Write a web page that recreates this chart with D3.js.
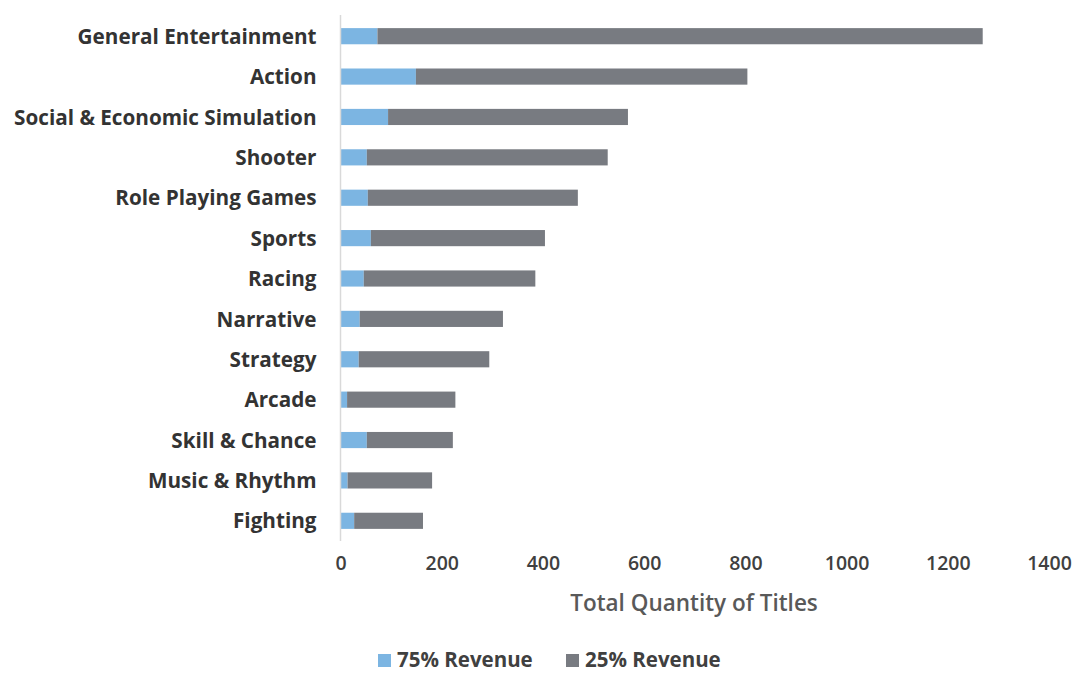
<!DOCTYPE html>
<html><head><meta charset="utf-8">
<script src="https://cdn.jsdelivr.net/npm/d3@7"></script>
<style>body{margin:0;background:#fff;}</style>
</head><body>
<svg id="chart" width="1074" height="673"></svg>
<script>
const categories = ["General Entertainment","Action","Social & Economic Simulation","Shooter","Role Playing Games","Sports","Racing","Narrative","Strategy","Arcade","Skill & Chance","Music & Rhythm","Fighting"];
const rev75 = [73,149,94,52,54,60,46,38,36,13,52,14,27];
const rev25 = [1196,655,474,476,415,344,339,283,258,214,170,167,136];
const xTicks = [0,200,400,600,800,1000,1200,1400];
const seriesNames = ["75% Revenue","25% Revenue"];
const colors = ["#7cb5e2","#787b81"];

const svg = d3.select("#chart");
const font = "'Open Sans', 'Liberation Sans', Arial, sans-serif";
const x = d3.scaleLinear().domain([0,1400]).range([340.5,1049]);
const y = d3.scaleBand().domain(categories).range([16,541]).paddingInner(0.6).paddingOuter(0.3);

const rows = categories.map((c,i)=>({cat:c, a:rev75[i], b:rev25[i]}));
const stack = d3.stack().keys(["a","b"])(rows);

svg.append("g").selectAll("g").data(stack).join("g")
  .attr("fill",(d,i)=>colors[i])
  .selectAll("rect").data(d=>d).join("rect")
  .attr("x",d=>x(d[0]))
  .attr("width",d=>x(d[1])-x(d[0]))
  .attr("y",d=>y(d.data.cat))
  .attr("height",y.bandwidth());

// y axis line
svg.append("line").attr("x1",340.5).attr("x2",340.5).attr("y1",15).attr("y2",541)
  .attr("stroke","#d9d9d9").attr("stroke-width",1.5);

// category labels
const yAxis = svg.append("g").attr("transform","translate(340.5,1)")
  .call(d3.axisLeft(y).tickSize(0).tickPadding(24));
yAxis.select(".domain").remove();
yAxis.selectAll("text").attr("font-family",font).attr("font-size","20.7px")
  .attr("font-weight","bold").attr("fill","#333333");

// x axis
const xAxis = svg.append("g").attr("transform","translate(0,554)")
  .call(d3.axisBottom(x).tickValues(xTicks).tickSize(0).tickPadding(2).tickFormat(d3.format("d")));
xAxis.select(".domain").remove();
xAxis.selectAll("text").attr("font-family",font).attr("font-size","19.5px")
  .attr("font-weight","600").attr("fill","#404040");

svg.append("text").attr("x",694).attr("y",611).attr("text-anchor","middle")
  .attr("font-family",font).attr("font-size","22.5px").attr("font-weight","600").attr("fill","#595959")
  .text("Total Quantity of Titles");

// legend
const legX = [378,566];
const leg = svg.append("g");
seriesNames.forEach((n,i)=>{
  leg.append("rect").attr("x",legX[i]).attr("y",654).attr("width",13).attr("height",13).attr("fill",colors[i]);
  leg.append("text").attr("x",legX[i]+19).attr("y",667).attr("font-family",font)
    .attr("font-size","20.5px").attr("font-weight","bold").attr("fill","#404040").text(n);
});
</script>
</body></html>
